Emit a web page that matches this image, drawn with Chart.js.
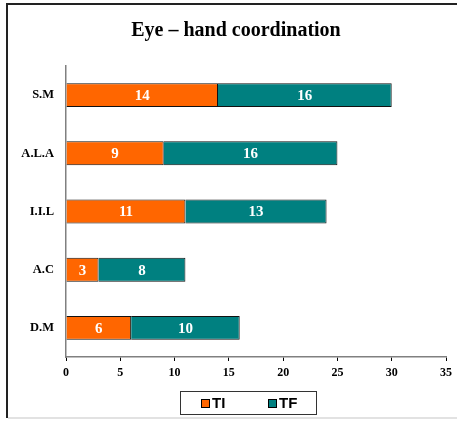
<!DOCTYPE html>
<html><head><meta charset="utf-8">
<script src="https://cdn.jsdelivr.net/npm/chart.js@4/dist/chart.umd.min.js"></script>
<style>html,body{margin:0;padding:0;background:#fff}#wrap{width:457px;height:422px}</style>
</head><body><div id="wrap"><canvas id="c" width="457" height="422"></canvas></div>
<script>
const categories = ['S.M', 'A.L.A', 'I.I.L', 'A.C', 'D.M'];
const tiValues = [14, 9, 11, 3, 6];
const tfValues = [16, 16, 13, 8, 10];
const seriesNames = ['TI', 'TF'];
const seriesColors = ['#FF6600', '#008080'];
const xTickValues = [0, 5, 10, 15, 20, 25, 30, 35];

const SERIF = "'Liberation Serif', 'Times New Roman', serif";
const SANS = "'Liberation Sans', Arial, sans-serif";

// Outer frame around the figure
const framePlugin = {
  id: 'frame',
  afterDraw(chart) {
    const ctx = chart.ctx;
    ctx.save();
    ctx.strokeStyle = '#222';
    ctx.lineWidth = 2;
    ctx.beginPath();
    ctx.moveTo(7, 418);
    ctx.lineTo(7, 4);
    ctx.lineTo(457, 4);
    ctx.stroke();
    ctx.strokeStyle = '#d8d8d8';
    ctx.lineWidth = 1.5;
    ctx.beginPath();
    ctx.moveTo(8, 418);
    ctx.lineTo(457, 418);
    ctx.stroke();
    ctx.restore();
  }
};

// Centre the title over the region to the right of the label column
const titleShift = {
  id: 'titleShift',
  afterLayout(chart) {
    if (chart.titleBlock) chart.titleBlock.left += 15;
  }
};

// White value labels centred inside each bar segment
const valueLabels = {
  id: 'valueLabels',
  afterDatasetsDraw(chart) {
    const ctx = chart.ctx;
    ctx.save();
    ctx.font = 'bold 15px ' + SERIF;
    ctx.fillStyle = '#fff';
    ctx.textAlign = 'center';
    ctx.textBaseline = 'middle';
    chart.data.datasets.forEach((ds, i) => {
      chart.getDatasetMeta(i).data.forEach((el, j) => {
        const x = (el.x + el.base) / 2;
        ctx.fillText(String(ds.data[j]), x, el.y + 1);
      });
    });
    ctx.restore();
  }
};

// Boxed legend below the axis
const boxLegend = {
  id: 'boxLegend',
  afterDraw(chart) {
    const ctx = chart.ctx;
    const bx = 180.5, by = 391.5, bw = 136, bh = 23;
    ctx.save();
    ctx.fillStyle = '#fff';
    ctx.fillRect(bx, by, bw, bh);
    ctx.strokeStyle = '#333';
    ctx.lineWidth = 1;
    ctx.strokeRect(bx, by, bw, bh);
    ctx.font = 'bold 15px ' + SANS;
    ctx.textBaseline = 'middle';
    ctx.textAlign = 'left';
    const itemX = [201, 268];
    chart.data.datasets.forEach((ds, i) => {
      const sx = itemX[i];
      ctx.fillStyle = ds.backgroundColor;
      ctx.fillRect(sx, 399, 8, 8);
      ctx.strokeStyle = '#000';
      ctx.strokeRect(sx + 0.5, 399.5, 8, 8);
      ctx.fillStyle = '#000';
      ctx.fillText(ds.label, sx + 11, 403.5);
    });
    ctx.restore();
  }
};

new Chart(document.getElementById('c'), {
  type: 'bar',
  data: {
    labels: categories,
    datasets: [
      { label: seriesNames[0], data: tiValues, backgroundColor: seriesColors[0], borderColor: '#111', borderWidth: 1 },
      { label: seriesNames[1], data: tfValues, backgroundColor: seriesColors[1], borderColor: '#111', borderWidth: 1 }
    ]
  },
  options: {
    indexAxis: 'y',
    responsive: false,
    animation: false,
    devicePixelRatio: 1,
    datasets: { bar: { categoryPercentage: 1, barPercentage: 0.41 } },
    layout: { padding: { left: 10, right: 10, top: 0, bottom: 35 } },
    plugins: {
      legend: { display: false },
      tooltip: { enabled: false },
      title: {
        display: true,
        text: 'Eye – hand coordination',
        color: '#000',
        font: { family: SERIF, size: 20, weight: 'bold' },
        padding: { top: 19, bottom: 23 }
      }
    },
    scales: {
      x: {
        stacked: true,
        min: 0,
        max: 35,
        afterBuildTicks(scale) { scale.ticks = xTickValues.map(v => ({ value: v })); },
        afterFit(scale) { scale.height = 30; },
        grid: { drawOnChartArea: false, drawTicks: true, tickLength: 4, color: '#000' },
        border: { color: '#808080', width: 1.5 },
        ticks: { color: '#000', padding: 5, maxRotation: 0, font: { family: SERIF, size: 12, weight: 'bold' } }
      },
      y: {
        stacked: true,
        afterFit(scale) { scale.width = 56; },
        grid: { display: false, drawTicks: false },
        border: { display: true, color: '#808080', width: 1.5 },
        ticks: { color: '#000', padding: 12, font: { family: SERIF, size: 12.5, weight: 'bold' } }
      }
    }
  },
  plugins: [framePlugin, titleShift, valueLabels, boxLegend]
});
</script>
</body></html>
